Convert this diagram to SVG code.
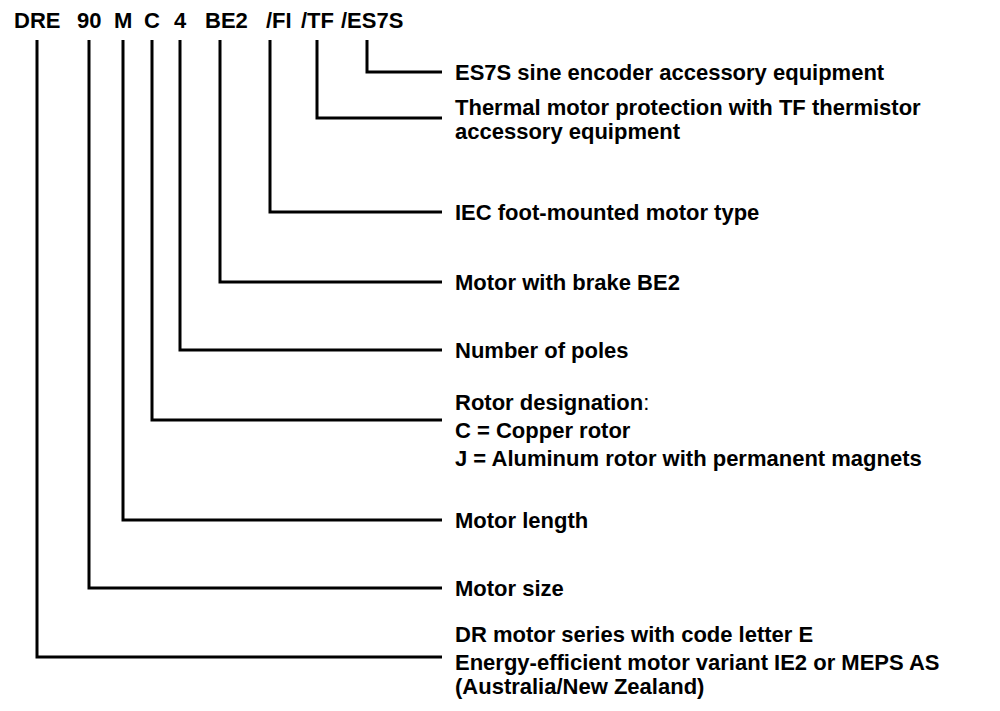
<svg xmlns="http://www.w3.org/2000/svg" width="1000" height="711" viewBox="0 0 1000 711">
<style>
text{font-family:"Liberation Sans",Arial,sans-serif;font-weight:bold;font-size:22px;fill:#000}
.n{font-weight:normal}
.c{fill:none;stroke:#000;stroke-width:3}
</style>
<rect width="1000" height="711" fill="#fff"/>
<g id="code">
<text y="28"><tspan x="14">DRE</tspan><tspan x="77">90</tspan><tspan x="114">M</tspan><tspan x="144">C</tspan><tspan x="174">4</tspan><tspan x="205">BE2</tspan><tspan x="266">/FI</tspan><tspan x="301">/TF</tspan><tspan x="341">/ES7S</tspan></text>
</g>
<g id="connectors">
<path class="c" d="M367,40V72H442"/>
<path class="c" d="M317,40V118H442"/>
<path class="c" d="M270,40V212H442"/>
<path class="c" d="M220,40V282H442"/>
<path class="c" d="M180,40V350H442"/>
<path class="c" d="M152,40V420H442"/>
<path class="c" d="M123,40V520H442"/>
<path class="c" d="M89,40V588H442"/>
<path class="c" d="M37,40V657H442"/>
</g>
<g id="n-es7s"><text x="455" y="80">ES7S sine encoder accessory equipment</text></g>
<g id="n-tf"><text x="455" y="115">Thermal motor protection with TF thermistor</text><text x="455" y="139">accessory equipment</text></g>
<g id="n-fi"><text x="455" y="220">IEC foot-mounted motor type</text></g>
<g id="n-be2"><text x="455" y="290">Motor with brake BE2</text></g>
<g id="n-4"><text x="455" y="358">Number of poles</text></g>
<g id="n-c"><text x="455" y="410">Rotor designation<tspan class="n">:</tspan></text><text x="455" y="438">C = Copper rotor</text><text x="455" y="466">J = Aluminum rotor with permanent magnets</text></g>
<g id="n-m"><text x="455" y="528">Motor length</text></g>
<g id="n-90"><text x="455" y="596">Motor size</text></g>
<g id="n-dre"><text x="455" y="642">DR motor series with code letter E</text><text x="455" y="670">Energy-efficient motor variant IE2 or MEPS AS</text><text x="455" y="694">(Australia/New Zealand)</text></g>
</svg>
